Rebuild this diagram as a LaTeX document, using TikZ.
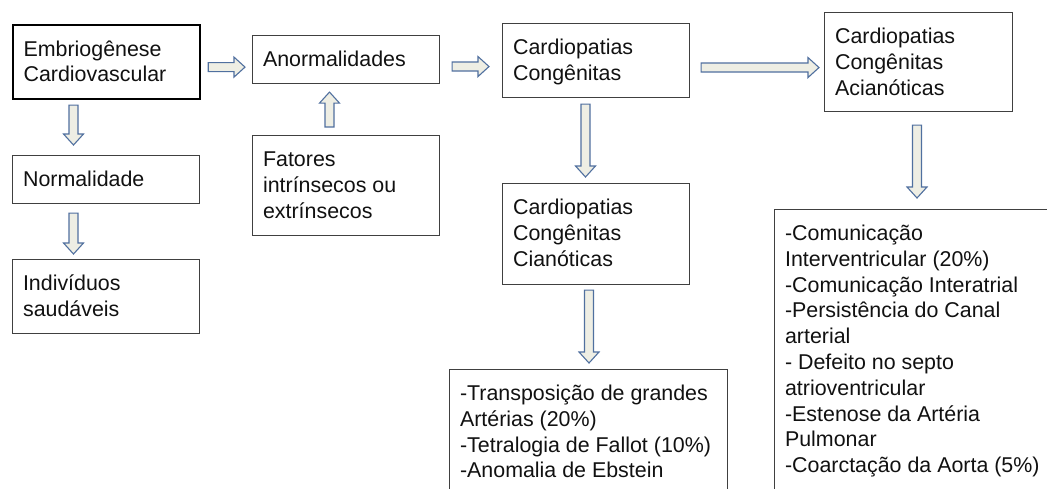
\documentclass[tikz,border=0pt]{standalone}
\usepackage{fontspec}
\setmainfont{Liberation Sans}
\usetikzlibrary{calc}
\definecolor{arrfill}{HTML}{EEEEE4}
\definecolor{arrline}{HTML}{50709F}
\definecolor{boxline}{HTML}{404040}
\definecolor{txt}{HTML}{111111}
\newcommand\bt[3]{\parbox[t][#2pt][t]{#1pt}{\raggedright\fontsize{21.4pt}{25.8pt}\selectfont\rule{0pt}{31pt}#3}}
\newcommand\rarr[2]{\draw[barrow] let \p1=(#1),\p2=(#2) in (\x1,\y1+4.5pt) -- (\x2-11pt,\y1+4.5pt) -- (\x2-11pt,\y1+10pt) -- (\x2,\y1) -- (\x2-11pt,\y1-10pt) -- (\x2-11pt,\y1-4.5pt) -- (\x1,\y1-4.5pt) -- cycle;}
\newcommand\darr[2]{\draw[barrow] let \p1=(#1),\p2=(#2) in (\x1-4.5pt,\y1) -- (\x1-4.5pt,\y2+11pt) -- (\x1-10pt,\y2+11pt) -- (\x1,\y2) -- (\x1+10pt,\y2+11pt) -- (\x1+4.5pt,\y2+11pt) -- (\x1+4.5pt,\y1) -- cycle;}
\newcommand\uarr[2]{\draw[barrow] let \p1=(#1),\p2=(#2) in (\x1-4.5pt,\y1) -- (\x1-4.5pt,\y2-11pt) -- (\x1-10pt,\y2-11pt) -- (\x1,\y2) -- (\x1+10pt,\y2-11pt) -- (\x1+4.5pt,\y2-11pt) -- (\x1+4.5pt,\y1) -- cycle;}
\tikzset{
  bx/.style={draw=boxline, line width=1.1pt, inner xsep=10.5pt, inner ysep=0pt, anchor=north west, fill=white, text=txt},
  bxthick/.style={bx, draw=black, line width=2.2pt},
  barrow/.style={draw=arrline, fill=arrfill, line width=1.1pt, line join=miter}
}
\begin{document}
\begin{tikzpicture}[x=1pt,y=1pt]
\useasboundingbox (0,0) rectangle (1047,488);
\fill[white] (0,0) rectangle (1047,488);
\clip (0,0) rectangle (1047,488);
\node[bxthick] (embr) at (12,464) {\bt{166}{74}{Embriogênese\\Cardiovascular}};
\node[bx] (anor) at (252,453) {\bt{166}{48}{Anormalidades}};
\node[bx] (fat) at (252,353) {\bt{166}{100}{Fatores\\intrínsecos ou\\extrínsecos}};
\node[bx] (card) at (502,465) {\bt{166}{74}{Cardiopatias\\Congênitas}};
\node[bx] (cian) at (502,305) {\bt{166}{101}{Cardiopatias\\Congênitas\\Cianóticas}};
\node[bx] (tran) at (449,119) {\bt{257}{140}{-Transposição de grandes\\Artérias (20\%)\\-Tetralogia de Fallot (10\%)\\-Anomalia de Ebstein}};
\node[bx] (acian) at (824,476) {\bt{167}{99}{Cardiopatias\\Congênitas\\Acianóticas}};
\node[bx] (comu) at (774,279) {\bt{269}{300}{-Comunicação\\Interventricular (20\%)\\-Comunicação Interatrial\\-Persistência do Canal\\arterial\\- Defeito no septo\\atrioventricular\\-Estenose da Artéria\\Pulmonar\\-Coarctação da Aorta (5\%)}};
\node[bx] (norm) at (12,333) {\bt{166}{48}{Normalidade}};
\node[bx] (indiv) at (12,229) {\bt{166}{74}{Indivíduos\\saudáveis}};
\rarr{$(embr.east)+(7,-5)$}{$(anor.west)+(-7,0)$}
\rarr{$(anor.east)+(12,-7)$}{$(card.west)+(-13,0)$}
\rarr{$(card.east)+(11,-7)$}{$(acian.west)+(-5,0)$}
\darr{$(embr.south west)+(61.5,-5)$}{$(norm.north)+(0,10)$}
\darr{$(norm.south west)+(61.5,-9)$}{$(indiv.north)+(0,5)$}
\uarr{$(fat.north west)+(77.5,8)$}{$(anor.south)+(0,-8)$}
\darr{$(card.south west)+(83.5,-6)$}{$(cian.north)+(0,6)$}
\darr{$(cian.south west)+(87,-5)$}{$(tran.north)+(0,6)$}
\darr{$(acian.south west)+(93,-13)$}{$(comu.north)+(0,11)$}
\end{tikzpicture}
\end{document}
